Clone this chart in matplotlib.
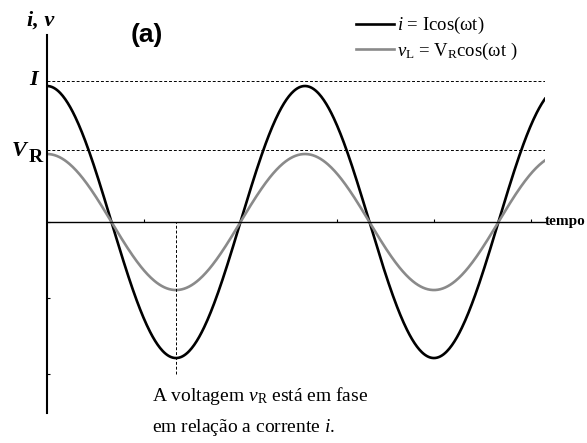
import matplotlib
matplotlib.use("Agg")
import matplotlib.pyplot as plt
import numpy as np

plt.rcParams['mathtext.fontset'] = 'custom'
plt.rcParams['mathtext.rm'] = 'Liberation Serif'
plt.rcParams['mathtext.it'] = 'Liberation Serif:italic'
plt.rcParams['mathtext.bf'] = 'Liberation Serif:bold'

# amplitudes (current = 1) and reference levels
amp_i = 1.0
amp_v = 0.5
level_I = 1.04
level_VR = 0.53
t_end = 12.13          # time shown, in radians of wt
t_min = np.pi          # first minimum marked by the vertical dashed line
ytick_vals = [0, -0.56, -1.12]
xtick_vals = [3 * np.pi / 4 * k for k in range(1, 6)]

t = np.linspace(0, t_end, 600)
i_curve = amp_i * np.cos(t)
v_curve = amp_v * np.cos(t)

W, H = 587, 443
fig = plt.figure(figsize=(W / 100, H / 100), dpi=100)
ax = fig.add_axes([47 / W, 30 / H, 498 / W, 378 / H])

serif = 'Liberation Serif'

l1, = ax.plot(t, i_curve, color='black', lw=1.9, label=r'$i$ = Icos(ωt)')
l2, = ax.plot(t, v_curve, color='#8a8a8a', lw=1.9,
              label=r'$v_{\mathrm{L}}$ = V$_{\mathrm{R}}$cos(ωt )')

ax.hlines([level_I, level_VR], 0, t_end, colors='black', lw=0.7,
          linestyles=(0, (3, 2)))
ax.vlines(t_min, -amp_i * 1.12, 0, colors='black', lw=0.7,
          linestyles=(0, (3, 2)))

ax.set_xlim(0, t_end)
ax.set_ylim(-1.404, 1.375)
for s in ['top', 'right']:
    ax.spines[s].set_visible(False)
ax.spines['bottom'].set_position(('data', 0))
ax.spines['bottom'].set_linewidth(1.0)
ax.spines['left'].set_linewidth(1.5)
ax.set_xticks(xtick_vals)
ax.set_yticks(ytick_vals)
ax.tick_params(direction='in', length=2, width=0.8, labelbottom=False,
               labelleft=False)

ax.legend(handles=[l1, l2], loc='upper left', bbox_to_anchor=(356 / W, 1 - 15 / H),
          bbox_transform=fig.transFigure, frameon=False,
          prop={'family': serif, 'size': 13.5}, handlelength=2.0,
          handletextpad=0.2, labelspacing=0.25, borderaxespad=0, borderpad=0)


def px(x, y):
    return x / W, 1 - y / H


fig.text(*px(27, 21), 'i, v', family=serif, style='italic', weight='bold',
         fontsize=16, va='center')
fig.text(*px(147, 35), '(a)', family='Liberation Sans', weight='bold',
         fontsize=19, ha='center', va='center')
fig.text(*px(34, 80), 'I', family=serif, style='italic', weight='bold',
         fontsize=16, ha='center', va='center')
fig.text(*px(12, 151), 'V', family=serif, style='italic', weight='bold',
         fontsize=16, va='center')
fig.text(*px(29, 157), 'R', family=serif, weight='bold',
         fontsize=14, va='center')
fig.text(*px(545, 222), 'tempo', family=serif, weight='bold',
         fontsize=11, va='center')
fig.text(*px(152, 396), r'A voltagem $v_{\mathrm{R}}$ está em fase',
         family=serif, fontsize=14, va='center')
fig.text(*px(152, 428), r'em relação a corrente $i$.',
         family=serif, fontsize=14, va='center')

fig.savefig('out.png', dpi=100)
